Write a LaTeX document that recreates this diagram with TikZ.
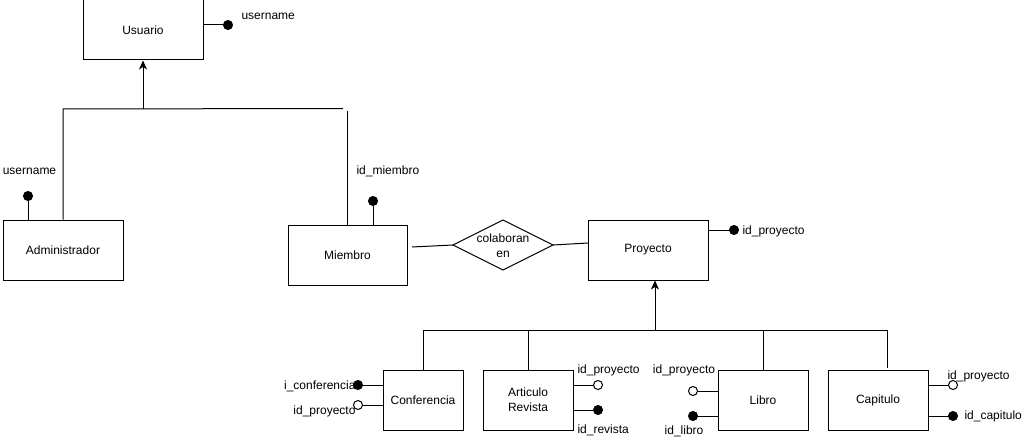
\documentclass[tikz,border=0pt]{standalone}
\usepackage{fontspec}
\setmainfont{Liberation Sans}
\usetikzlibrary{arrows.meta}
\begin{document}
\begin{tikzpicture}[x=1pt,y=-1pt, line width=1pt,
 every node/.style={font=\fontsize{12}{15}\selectfont},
 entity/.style={draw, rectangle, minimum height=60pt, inner sep=0pt, align=center},
 keydot/.style={circle, fill=black, draw=black, minimum size=9pt, inner sep=0pt},
 optdot/.style={circle, fill=white, draw=black, minimum size=9pt, inner sep=0pt},
 lbl/.style={inner sep=0pt},
 isa/.style={-{Stealth[length=9pt,width=8pt,inset=2.5pt]}}]
\useasboundingbox (0,0) rectangle (1024,441);

% entities
\node[entity, minimum width=120pt] (usuario) at (143,30) {Usuario};
\node[entity, minimum width=120pt] (admin) at (63,250) {Administrador};
\node[entity, minimum width=119pt] (miembro) at (347.5,255) {Miembro};
\node[entity, minimum width=120pt] (proyecto) at (648,250) {Proyecto};
\node[entity, minimum width=80pt] (conf) at (423,400) {Conferencia};
\node[entity, minimum width=90pt] (art) at (528,400) {Articulo\\Revista};
\node[entity, minimum width=90pt] (libro) at (763,400) {Libro};
\node[entity, minimum width=100pt] (cap) at (878,400) {Capitulo};

% relationship
\coordinate (relL) at (453,245);
\coordinate (relT) at (503,220);
\coordinate (relR) at (553,245);
\coordinate (relB) at (503,270);
\draw (relL) -- (relT) -- (relR) -- (relB) -- cycle;
\node[align=center, lbl] (rel) at (503,246) {colaboran\\en};
\coordinate (m1) at (412,247);
\coordinate (p1) at (588,243);
\draw (m1) -- (relL);
\draw (relR) -- (p1);

% usuario hierarchy
\coordinate (h1) at (143,109);
\coordinate (hL) at (63,109);
\coordinate (hR) at (343,108.5);
\coordinate (vR) at (347,111);
\draw[isa] (h1) -- (usuario.south);
\draw (admin.north -| hL) -- (hL) -- (hR);
\draw (vR) -- (vR |- miembro.north);

% proyecto hierarchy
\coordinate (g1) at (655,330);
\coordinate (gL) at (423,330);
\coordinate (gR) at (887,330);
\coordinate (gA) at (528,330);
\coordinate (gB) at (763,330);
\draw[isa] (g1) -- (g1 |- proyecto.south);
\draw (conf.north) -- (gL) -- (gR) -- (887,368);
\draw (gA) -- (art.north);
\draw (gB) -- (libro.north);

% attributes: usuario
\node[keydot] (uk) at (228,25) {};
\draw (usuario.east |- uk) -- (uk);
\node[lbl, anchor=west] (ul) at (241,16) {username};

% admin
\node[keydot] (ak) at (28,196) {};
\draw (ak) -- (ak |- admin.north);
\node[lbl] (al) at (29.5,171) {username};

% miembro
\node[keydot] (mk) at (373,201) {};
\draw (mk) -- (mk |- miembro.north);
\node[lbl, anchor=west] (ml) at (356,171) {id\_miembro};

% proyecto
\node[keydot] (pk) at (734,230) {};
\draw (proyecto.east |- pk) -- (pk);
\node[lbl, anchor=west] (pl) at (742,231) {id\_proyecto};

% conferencia
\node[keydot] (ck) at (358,385) {};
\draw (conf.west |- ck) -- (ck);
\node[lbl, anchor=east] (cl1) at (356,386) {i\_conferencia};
\node[optdot] (co) at (358,405) {};
\draw (conf.west |- co) -- (co);
\node[lbl, anchor=east] (cl2) at (356,411) {id\_proyecto};

% articulo
\node[optdot] (ao) at (598,385) {};
\draw (art.east |- ao) -- (ao);
\node[lbl, anchor=west] (arl1) at (577,370) {id\_proyecto};
\node[keydot] (ark) at (598,410) {};
\draw (art.east |- ark) -- (ark);
\node[lbl, anchor=west] (arl2) at (577,430) {id\_revista};

% libro
\node[optdot] (lo) at (693,391) {};
\draw (libro.west |- lo) -- (lo);
\node[lbl] (ll1) at (684,370) {id\_proyecto};
\node[keydot] (lk) at (693,416) {};
\draw (libro.west |- lk) -- (lk);
\node[lbl] (ll2) at (684,431) {id\_libro};

% capitulo
\node[optdot] (cpo) at (953,385) {};
\draw (cap.east |- cpo) -- (cpo);
\node[lbl, anchor=west] (cpl1) at (947,376) {id\_proyecto};
\node[keydot] (cpk) at (953,416) {};
\draw (cap.east |- cpk) -- (cpk);
\node[lbl, anchor=west] (cpl2) at (964,416) {id\_capitulo};
\end{tikzpicture}
\end{document}
